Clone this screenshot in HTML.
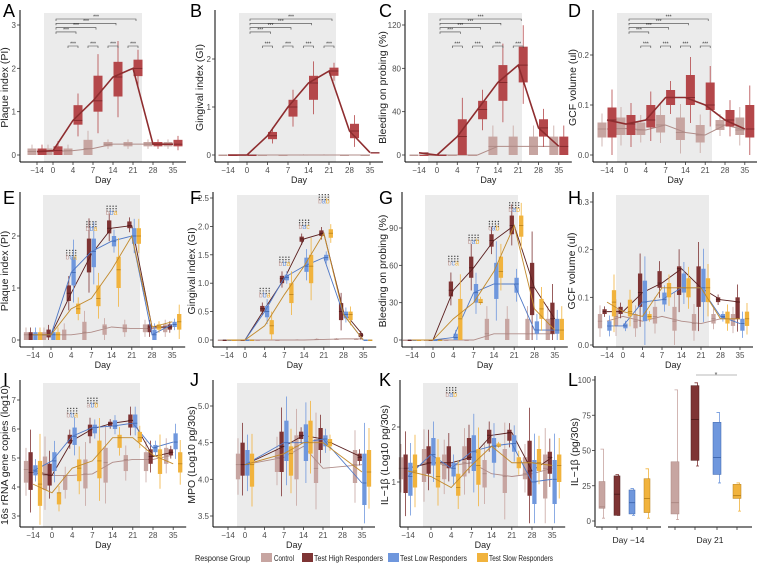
<!DOCTYPE html>
<html><head><meta charset="utf-8">
<style>
html,body{margin:0;padding:0;background:#fff;}
svg{display:block;font-family:"Liberation Sans",Arial,sans-serif;}
</style></head>
<body>
<svg id="fig" width="757" height="565" viewBox="0 0 757 565" xmlns="http://www.w3.org/2000/svg"></svg>
<script>
// ---------- DATA ----------
const dayLabels = ["-14","0","4","7","14","21","28","35"];
const groupNames = ["Control","Test High Responders","Test Low Responders","Test Slow Responders"];
// Panel A (Plaque index)
const A_ctrl_med=[0.08,0.08,0.1,0.15,0.25,0.25,0.25,0.25];
const A_ctrl_q1=[0,0,0,0,0.2,0.2,0.2,0.2];
const A_ctrl_q3=[0.15,0.15,0.15,0.35,0.3,0.3,0.3,0.3];
const A_test_med=[0.08,0.1,0.8,1.25,1.8,2.0,0.25,0.25];
const A_test_q1=[0,0,0.7,1.0,1.35,1.82,0.2,0.2];
const A_test_q3=[0.15,0.2,1.15,1.83,2.15,2.2,0.3,0.35];
// Panel B (Gingival index)
const B_ctrl_med=[0,0,0,0,0,0,0,0];
const B_ctrl_q1=[0,0,0,0,0,0,0,0];
const B_ctrl_q3=[0,0,0,0,0.01,0.01,0,0];
const B_test_med=[0,0,0.4,1.0,1.5,1.75,0.5,0.05];
const B_test_q1=[0,0,0.33,0.8,1.15,1.65,0.35,0.05];
const B_test_q3=[0,0,0.48,1.15,1.65,1.82,0.65,0.05];
// Panel C (Bleeding on probing)
const C_ctrl_med=[0,0,0,0,8,8,8,8];
const C_ctrl_q1=[0,0,0,0,0,0,0,0];
const C_ctrl_q3=[0,0,0,0,17,17,17,17];
const C_test_med=[2,0,17,42,67,83,25,8];
const C_test_q1=[0,0,0,33,50,67,17,0];
const C_test_q3=[0,0,33,50,83,100,33,17];
// Panel D (GCF volume)
const D_ctrl_med=[0.052,0.053,0.05,0.06,0.045,0.04,0.06,0.05];
const D_ctrl_q1=[0.035,0.04,0.04,0.045,0.03,0.025,0.05,0.04];
const D_ctrl_q3=[0.065,0.075,0.065,0.08,0.075,0.06,0.07,0.075];
const D_test_med=[0.07,0.062,0.07,0.115,0.115,0.1,0.07,0.052];
const D_test_q1=[0.035,0.04,0.055,0.1,0.1,0.09,0.057,0.035];
const D_test_q3=[0.095,0.08,0.1,0.13,0.16,0.145,0.09,0.1];
// Panel E
const E_ctrl_med=[0.1,0.1,0.1,0.15,0.25,0.22,0.22,0.25];
const E_ctrl_q1=[0,0,0,0,0.1,0.15,0.15,0.15];
const E_ctrl_q3=[0.15,0.15,0.2,0.35,0.3,0.3,0.3,0.3];
const E_high_med=[0.1,0.1,0.9,1.65,2.15,2.2,0.25,0.25];
const E_high_q1=[0,0.05,0.75,1.3,2.05,2.15,0.15,0.2];
const E_high_q3=[0.15,0.2,1.05,1.95,2.3,2.28,0.3,0.3];
const E_low_med=[0.1,0.1,1.3,1.7,1.9,2.0,0.1,0.3];
const E_low_q1=[0,0,1.05,1.4,1.8,1.85,0,0.25];
const E_low_q3=[0.15,0.15,1.6,1.95,2.0,2.15,0.2,0.35];
const E_slow_med=[0.1,0.1,0.6,0.8,1.35,2.0,0.25,0.35];
const E_slow_q1=[0,0,0.5,0.65,1.0,1.85,0.2,0.2];
const E_slow_q3=[0.15,0.15,0.7,1.05,1.6,2.15,0.3,0.5];
// Panel F
const F_ctrl_med=[0,0,0,0,0,0.01,0.02,0.02];
const F_ctrl_q1=[0,0,0,0,0,0,0,0];
const F_ctrl_q3=[0,0,0,0,0.01,0.02,0.02,0.02];
const F_high_med=[0,0,0.55,1.08,1.78,1.88,0.5,0.08];
const F_high_q1=[0,0,0.5,1.0,1.73,1.83,0.35,0.05];
const F_high_q3=[0,0,0.6,1.13,1.82,1.93,0.65,0.12];
const F_low_med=[0,0,0.5,1.1,1.3,1.45,0.45,0];
const F_low_q1=[0,0,0.4,1.05,1.2,1.4,0.38,0];
const F_low_q3=[0,0,0.6,1.15,1.45,1.5,0.5,0];
const F_slow_med=[0,0,0.25,0.8,1.3,1.88,0.45,0];
const F_slow_q1=[0,0,0.1,0.65,1.0,1.8,0.35,0];
const F_slow_q3=[0,0,0.35,1.0,1.5,1.95,0.5,0];
// Panel G
const G_ctrl_med=[0,0,0,0,5,5,5,5];
const G_ctrl_q1=[0,0,0,0,0,0,0,0];
const G_ctrl_q3=[0,0,0,0,17,17,17,17];
const G_high_med=[0,0,40,58,80,92,42,17];
const G_high_q1=[0,0,35,50,75,85,20,5];
const G_high_q3=[0,0,47,67,85,100,62,30];
const G_low_med=[0,0,2,38,45,45,8,8];
const G_low_q1=[0,0,0,30,33,38,5,5];
const G_low_q3=[0,0,5,45,62,50,15,17];
const G_slow_med=[0,0,17,30,55,92,25,8];
const G_slow_q1=[0,0,0,30,50,83,17,0];
const G_slow_q3=[0,0,33,33,67,100,33,17];
// Panel H
const H_ctrl_med=[0.05,0.06,0.05,0.06,0.05,0.045,0.055,0.055];
const H_ctrl_q1=[0.035,0.04,0.035,0.045,0.03,0.03,0.045,0.04];
const H_ctrl_q3=[0.065,0.075,0.065,0.08,0.08,0.065,0.065,0.065];
const H_high_med=[0.07,0.07,0.11,0.13,0.16,0.12,0.095,0.09];
const H_high_q1=[0.065,0.065,0.08,0.12,0.105,0.08,0.09,0.055];
const H_high_q3=[0.075,0.08,0.15,0.155,0.165,0.165,0.1,0.1];
const H_low_med=[0.04,0.04,0.09,0.095,0.12,0.12,0.06,0.045];
const H_low_q1=[0.03,0.035,0.05,0.085,0.11,0.09,0.055,0.03];
const H_low_q3=[0.05,0.045,0.135,0.11,0.15,0.16,0.065,0.055];
const H_slow_med=[0.09,0.07,0.06,0.12,0.12,0.12,0.055,0.055];
const H_slow_q1=[0.06,0.06,0.055,0.1,0.1,0.09,0.045,0.04];
const H_slow_q3=[0.115,0.095,0.065,0.13,0.14,0.14,0.07,0.07];
// Panel I
const I_ctrl_med=[4.6,4.4,4.4,4.45,4.85,4.95,4.95,5.1];
const I_ctrl_q1=[4.15,3.9,3.9,3.95,4.15,4.55,4.55,4.8];
const I_ctrl_q3=[4.9,5.05,4.4,4.95,5.35,5.1,5.2,5.35];
const I_high_med=[4.5,4.4,5.6,6.0,6.2,6.3,5.05,5.2];
const I_high_q1=[3.9,4.05,5.5,5.75,6.1,6.05,4.8,5.1];
const I_high_q3=[5.2,4.8,5.8,6.15,6.25,6.5,5.3,5.3];
const I_low_med=[4.55,4.9,5.75,6.05,6.1,6.2,5.35,5.55];
const I_low_q1=[4.4,4.55,5.45,5.85,6.0,6.05,5.2,5.3];
const I_low_q3=[4.75,5.2,6.05,6.15,6.3,6.5,5.45,5.85];
const I_slow_med=[4.1,3.8,4.65,4.9,5.7,5.7,5.1,4.8];
const I_slow_q1=[3.35,3.4,4.2,4.3,5.35,5.55,4.45,4.5];
const I_slow_q3=[4.9,3.8,4.95,5.6,5.8,5.9,5.3,5.2];
// Panel J
const J_ctrl_med=[null,4.2,null,4.3,4.45,4.15,null,4.2];
const J_ctrl_q1=[null,4.0,null,4.1,4.0,3.95,null,3.95];
const J_ctrl_q3=[null,4.35,null,4.4,4.6,4.55,null,4.4];
const J_high_med=[null,4.2,null,4.45,4.6,4.55,null,4.3];
const J_high_q1=[null,4.05,null,4.1,4.55,4.4,null,4.25];
const J_high_q3=[null,4.5,null,4.65,4.65,4.7,null,4.35];
const J_low_med=[null,4.2,null,4.5,4.5,4.55,null,3.95];
const J_low_q1=[null,4.05,null,4.25,4.25,4.45,null,3.65];
const J_low_q3=[null,4.4,null,4.8,4.75,4.6,null,4.35];
const J_slow_med=[null,4.2,null,4.35,4.5,4.5,null,4.1];
const J_slow_q1=[null,3.9,null,4.05,4.35,4.45,null,3.9];
const J_slow_q3=[null,4.35,null,4.45,4.8,4.55,null,4.4];
// Panel K
const K_ctrl_med=[1.25,1.35,1.3,1.35,1.15,1.1,1.15,1.25];
const K_ctrl_q1=[1.05,1.0,1.05,1.1,0.9,0.8,1.05,0.7];
const K_ctrl_q3=[1.45,1.6,1.5,1.65,1.4,1.6,1.45,1.5];
const K_high_med=[1.25,1.35,1.35,1.45,1.85,1.9,1.2,1.45];
const K_high_q1=[0.8,1.15,1.25,1.4,1.7,1.75,0.75,1.15];
const K_high_q3=[1.5,1.65,1.65,1.8,1.95,1.95,1.75,1.55];
const K_low_med=[1.1,1.5,1.25,1.55,1.65,1.7,1.0,1.05];
const K_low_q1=[0.75,1.3,1.1,1.2,1.35,1.55,0.6,0.6];
const K_low_q3=[1.35,1.8,1.35,1.85,1.8,1.85,1.4,1.4];
const K_slow_med=[1.2,1.1,0.9,1.3,1.65,1.35,1.35,1.3];
const K_slow_q1=[0.9,0.9,0.75,0.95,1.65,1.25,1.2,1.0];
const K_slow_q3=[1.5,1.45,1.15,1.6,1.7,1.45,1.6,1.5];
// Panel L (IL-1b pg/30s), order: control, high, low, slow
const L_facets=["Day \u221214","Day 21"];
const L_d14_med=[10,19,13,16];
const L_d14_q1=[9,4,5,6];
const L_d14_q3=[28,32,22,30];
const L_d14_lo=[2,4,4,2];
const L_d14_hi=[51,33,23,37];
const L_d21_med=[13,72,45,18];
const L_d21_q1=[5,43,33,16];
const L_d21_q3=[42,96,70,26];
const L_d21_lo=[1,39,27,7];
const L_d21_hi=[93,98,77,27];

// ---------- DRAW ----------
const NS="http://www.w3.org/2000/svg";
const svg=document.getElementById('fig');
function el(tag,attrs,parent){const e=document.createElementNS(NS,tag);for(const k in attrs)e.setAttribute(k,attrs[k]);(parent||svg).appendChild(e);return e;}
function txt(s,attrs,parent){const e=el('text',attrs,parent);e.textContent=s;return e;}

const COL={ctrl:"#c7a5a1",high:"#7e3434",low:"#6f97dd",slow:"#f1b33d",test:"#b4474a"};
const MED={ctrl:"#a98580",high:"#4e1a1a",low:"#3e66ad",slow:"#b7801b",test:"#7a2326"};
const LINE={ctrl:"#b08c88",high:"#5a1f1f",low:"#4f78c6",slow:"#c28a2c",test:"#8e2d2f"};

function drawPanel(p){
  const g=el('g',{});
  
  
  const yv=v=>p.y0px+(v-p.v0)*(p.y1px-p.y0px)/(p.v1-p.v0);
  const xp=i=> i===0 ? p.xFirst : p.x0+(i-1)*p.sp;
  const right=xp(7)+13;
  const sh=el('rect',{x:p.shade[0],y:p.top,width:p.shade[1]-p.shade[0],height:p.bottom-p.top,fill:"#ebebeb"},g);
  
  
  p.groups.forEach((gr,gi)=>{
    const off=p.offs[gi];
    const bw=p.bw;
    const pts=[];
    gr.med.forEach((m,i)=>{
      if(m===null)return;
      const cx=xp(i)+off;
      const q1=gr.q1[i],q3=gr.q3[i];
      const iqr=q3-q1;
      const lo=Math.max(p.vmin,q1-iqr*0.6),hi=q3+iqr*0.6;
      const wl=el('line',{x1:cx,x2:cx,y1:yv(lo),y2:yv(hi),stroke:COL[gr.k],'stroke-width':0.8},g);
      
      
      const y3=yv(q3),y1=yv(q1);
      const r=el('rect',{x:cx-bw/2,y:Math.min(y1,y3),width:bw,height:Math.max(1,Math.abs(y1-y3)),fill:COL[gr.k]},g);
      
      
      const ml=el('line',{x1:cx-bw/2,x2:cx+bw/2,y1:yv(m),y2:yv(m),stroke:MED[gr.k],'stroke-width':0.8},g);
      
      
      pts.push([xp(i),yv(m)]);
    });
    const pl=el('polyline',{points:pts.map(q=>q.join(',')).join(' '),fill:'none',stroke:LINE[gr.k],'stroke-width':gr.lw||1},g);
    
    
  });
  const ya=el('line',{x1:p.ax,x2:p.ax,y1:p.top-3,y2:p.bottom,stroke:"#000",'stroke-width':1},g);
  
  
  const xa=el('line',{x1:p.ax,x2:right,y1:p.bottom,y2:p.bottom,stroke:"#000",'stroke-width':1},g);
  
  
  p.ticks.forEach((t,j)=>{
    const y=yv(t);
    el('line',{x1:p.ax-3,x2:p.ax,y1:y,y2:y,stroke:"#333",'stroke-width':0.8},g);
    const tl=txt(p.tickLabels[j],{x:p.ax-4,y:y+3,'font-size':8,'text-anchor':'end',fill:"#4d4d4d"},g);
    
    
  });
  dayLabels.forEach((d,i)=>{
    const x=xp(i);
    el('line',{x1:x,x2:x,y1:p.bottom,y2:p.bottom+3,stroke:"#333",'stroke-width':0.8},g);
    const tl=txt(d==="-14"?"\u221214":d,{x:x,y:p.bottom+11,'font-size':8,'text-anchor':'middle',fill:"#4d4d4d"},g);
    
    
  });
  const xt=txt("Day",{x:(p.ax+right)/2,y:p.bottom+21,'font-size':9,'text-anchor':'middle',fill:"#222"},g);
  
  
  const cy=(p.top+p.bottom)/2;
  const yt=txt(p.ylabel,{x:p.lx,y:cy,'font-size':10.5,'text-anchor':'middle',fill:"#222",transform:`rotate(-90 ${p.lx} ${cy})`},g);
  
  
  const pl=txt(p.letter,{x:p.letX,y:p.letY,'font-size':18,fill:"#000"},g);
  
  
  if(p.brackets){
    const b0=p.top+6;
    [5,4,3,2].forEach((k,j)=>{
      const y=b0+j*4.3, x1=xp(1)+3, x2=xp(k)+3;
      el('path',{d:`M${x1},${y+2}V${y}H${x2}V${y+2}`,fill:'none',stroke:'#444','stroke-width':0.6},g);
      txt("***",{x:(x1+x2)/2,y:y-0.5,'font-size':5,'text-anchor':'middle',fill:'#333'},g);
    });
    [2,3,4,5].forEach(k=>{
      const y=b0+27, x1=xp(k)-5, x2=xp(k)+5;
      el('path',{d:`M${x1},${y+2}V${y}H${x2}V${y+2}`,fill:'none',stroke:'#444','stroke-width':0.6},g);
      txt("***",{x:xp(k),y:y-0.5,'font-size':5,'text-anchor':'middle',fill:'#333'},g);
    });
  }
  if(p.letters){
    p.letters.forEach(L=>{
      const x=xp(L[0]);
      const yb=yv(L[1]);
      for(let r=0;r<3;r++)for(let c=0;c<4;c++){
        el('circle',{cx:x-4.5+c*3,cy:yb-9+r*2.5,r:0.7,fill:'#444'},g);
      }
      const t=txt("",{x:x,y:yb,'font-size':7,'text-anchor':'middle'},g);
      [...L[2]].forEach((c,ci)=>{const s=el('tspan',{fill:[COL.ctrl,COL.low,COL.slow][ci]},t);s.textContent=c;});
    });
  }
}

const ALL={A_ctrl_med,A_ctrl_q1,A_ctrl_q3,A_test_med,A_test_q1,A_test_q3,B_ctrl_med,B_ctrl_q1,B_ctrl_q3,B_test_med,B_test_q1,B_test_q3,C_ctrl_med,C_ctrl_q1,C_ctrl_q3,C_test_med,C_test_q1,C_test_q3,D_ctrl_med,D_ctrl_q1,D_ctrl_q3,D_test_med,D_test_q1,D_test_q3,
E_ctrl_med,E_ctrl_q1,E_ctrl_q3,E_high_med,E_high_q1,E_high_q3,E_low_med,E_low_q1,E_low_q3,E_slow_med,E_slow_q1,E_slow_q3,
F_ctrl_med,F_ctrl_q1,F_ctrl_q3,F_high_med,F_high_q1,F_high_q3,F_low_med,F_low_q1,F_low_q3,F_slow_med,F_slow_q1,F_slow_q3,
G_ctrl_med,G_ctrl_q1,G_ctrl_q3,G_high_med,G_high_q1,G_high_q3,G_low_med,G_low_q1,G_low_q3,G_slow_med,G_slow_q1,G_slow_q3,
H_ctrl_med,H_ctrl_q1,H_ctrl_q3,H_high_med,H_high_q1,H_high_q3,H_low_med,H_low_q1,H_low_q3,H_slow_med,H_slow_q1,H_slow_q3,
I_ctrl_med,I_ctrl_q1,I_ctrl_q3,I_high_med,I_high_q1,I_high_q3,I_low_med,I_low_q1,I_low_q3,I_slow_med,I_slow_q1,I_slow_q3,
J_ctrl_med,J_ctrl_q1,J_ctrl_q3,J_high_med,J_high_q1,J_high_q3,J_low_med,J_low_q1,J_low_q3,J_slow_med,J_slow_q1,J_slow_q3,
K_ctrl_med,K_ctrl_q1,K_ctrl_q3,K_high_med,K_high_q1,K_high_q3,K_low_med,K_low_q1,K_low_q3,K_slow_med,K_slow_q1,K_slow_q3};
function grp2(P){return [
  {k:'ctrl',med:ALL[P+'_ctrl_med'],q1:ALL[P+'_ctrl_q1'],q3:ALL[P+'_ctrl_q3'],lw:1},
  {k:'test',med:ALL[P+'_test_med'],q1:ALL[P+'_test_q1'],q3:ALL[P+'_test_q3'],lw:1.6}];}
function grp4(P){return ['ctrl','high','low','slow'].map(k=>({k:k,med:ALL[P+'_'+k+'_med'],q1:ALL[P+'_'+k+'_q1'],q3:ALL[P+'_'+k+'_q3'],lw:0.9}));}
const off2=[-5,5], off4=[-7,-2.4,2.4,7];

const panels=[
 {letter:'A',letX:3,letY:17,ax:20,top:13,bottom:162,v0:0,y0px:155,v1:3,y1px:25,vmin:0,ticks:[0,1,2,3],tickLabels:["0","1","2","3"],xFirst:37,x0:53,sp:20,shade:[44,142],ylabel:"Plaque index (PI)",lx:8,groups:grp2('A'),offs:off2,bw:9,brackets:true},
 {letter:'B',letX:190,letY:17,ax:215,top:13,bottom:162,v0:0,y0px:155,v1:2,y1px:59,vmin:0,ticks:[0,1,2],tickLabels:["0","1","2"],xFirst:228,x0:247,sp:20.5,shade:[239,336],ylabel:"Gingival index (GI)",lx:203,groups:grp2('B'),offs:off2,bw:9,brackets:true},
 {letter:'C',letX:379,letY:17,ax:405,top:13,bottom:162,v0:0,y0px:155,v1:120,y1px:25,vmin:0,ticks:[0,40,80,120],tickLabels:["0","40","80","120"],xFirst:419,x0:437,sp:20.3,shade:[428,522],ylabel:"Bleeding on probing (%)",lx:386,groups:grp2('C'),offs:off2,bw:9,brackets:true},
 {letter:'D',letX:568,letY:17,ax:593,top:13,bottom:162,v0:0,y0px:155,v1:0.2,y1px:55,vmin:0,ticks:[0,0.1,0.2],tickLabels:["0.0","0.1","0.2"],xFirst:607,x0:626,sp:19.8,shade:[617,712],ylabel:"GCF volume (ul)",lx:576,groups:grp2('D'),offs:off2,bw:9,brackets:true},
 {letter:'E',letX:3,letY:204,ax:20,top:195,bottom:347,v0:0,y0px:340,v1:2,y1px:236,vmin:0,ticks:[0,1,2],tickLabels:["0","1","2"],xFirst:33,x0:51,sp:20.2,shade:[43,140],ylabel:"Plaque index (PI)",lx:8,groups:grp4('E'),offs:off4,bw:4.3,letters:[[2,1.55,"bca"],[3,2.1,"bba"],[4,2.4,"bba"]]},
 {letter:'F',letX:190,letY:204,ax:213,top:195,bottom:347,v0:0,y0px:340,v1:2.5,y1px:198,vmin:0,ticks:[0,0.5,1,1.5,2,2.5],tickLabels:["0.0","0.5","1.0","1.5","2.0","2.5"],xFirst:227,x0:245,sp:19.7,shade:[237,330],ylabel:"Gingival index (GI)",lx:195,groups:grp4('F'),offs:off4,bw:4.3,letters:[[2,0.75,"bba"],[3,1.3,"bba"],[4,1.95,"bac"],[5,2.4,"bab"]]},
 {letter:'G',letX:379,letY:204,ax:402,top:195,bottom:347,v0:0,y0px:340,v1:90,y1px:228,vmin:0,ticks:[0,30,60,90],tickLabels:["0","30","60","90"],xFirst:412,x0:433,sp:20.3,shade:[425,518],ylabel:"Bleeding on probing (%)",lx:386,groups:grp4('G'),offs:off4,bw:4.3,letters:[[2,60,"bca"],[3,77,"bab"],[4,88,"cab"],[5,103,"bab"]]},
 {letter:'H',letX:568,letY:204,ax:593,top:195,bottom:347,v0:0,y0px:345,v1:0.3,y1px:202,vmin:0,ticks:[0,0.1,0.2,0.3],tickLabels:["0.0","0.1","0.2","0.3"],xFirst:607,x0:623,sp:19.5,shade:[616,709],ylabel:"GCF volume (ul)",lx:575,groups:grp4('H'),offs:off4,bw:4.3},
 {letter:'I',letX:3,letY:386,ax:20,top:383,bottom:527,v0:3,y0px:516,v1:7,y1px:400,vmin:2.7,ticks:[3,4,5,6,7],tickLabels:["3","4","5","6","7"],xFirst:33,x0:52,sp:20.2,shade:[43,140],ylabel:"16s rRNA gene copies (log10)",lx:8,groups:grp4('I'),offs:off4,bw:4.3,letters:[[2,6.4,"bba"],[3,6.75,"abb"]]},
 {letter:'J',letX:190,letY:386,ax:213,top:383,bottom:527,v0:3.5,y0px:516,v1:5,y1px:406,vmin:3.4,ticks:[3.5,4,4.5,5],tickLabels:["3.5","4.0","4.5","5.0"],xFirst:228,x0:245,sp:19.5,shade:[237,330],ylabel:"MPO (Log10 pg/30s)",lx:195,groups:grp4('J'),offs:off4,bw:4.3},
 {letter:'K',letX:379,letY:386,ax:400,top:383,bottom:527,v0:1,y0px:482,v1:2,y1px:427,vmin:0.25,ticks:[1,2],tickLabels:["1","2"],xFirst:408,x0:431,sp:20.2,shade:[423,518],ylabel:"IL\u22121\u03B2 (Log10 pg/30s)",lx:388,groups:grp4('K'),offs:off4,bw:4.3,letters:[[2,2.55,"bab"]]}
];
panels.forEach(drawPanel);

// ---------- Panel L ----------
(function(){
  const g=el('g',{});
  
  
  const yv=v=>521+(v-0)*(380-521)/100;
  const ax=595,bottom=527;
  const yax=el('line',{x1:ax,x2:ax,y1:376,y2:bottom,stroke:'#000'},g);
  
  
  [0,25,50,75,100].forEach(t=>{
    el('line',{x1:ax-3,x2:ax,y1:yv(t),y2:yv(t),stroke:'#333','stroke-width':0.8},g);
    const tl=txt(String(t),{x:ax-4,y:yv(t)+3,'font-size':8,'text-anchor':'end',fill:'#4d4d4d'},g);
    
    
  });
  const yt=txt("IL\u22121\u03B2 (pg/30s)",{x:578,y:452,'font-size':10.5,'text-anchor':'middle',fill:'#222',transform:'rotate(-90 578 452)'},g);
  
  
  const lt=txt("L",{x:568,y:386,'font-size':18,fill:'#000'},g);
  
  
  const facets=[
    {x1:596,x2:661,xs:[602,617,632,647],bw:6,med:L_d14_med,q1:L_d14_q1,q3:L_d14_q3,lo:L_d14_lo,hi:L_d14_hi},
    {x1:668,x2:752,xs:[675,695,717,737],bw:8,med:L_d21_med,q1:L_d21_q1,q3:L_d21_q3,lo:L_d21_lo,hi:L_d21_hi}];
  const keys=['ctrl','high','low','slow'];
  facets.forEach((f,fi)=>{
    const fx=el('line',{x1:f.x1,x2:f.x2,y1:bottom,y2:bottom,stroke:'#000'},g);
    
    
    f.xs.forEach((cx,i)=>{
      const k=keys[i];
      el('line',{x1:cx,x2:cx,y1:bottom,y2:bottom+3,stroke:'#333','stroke-width':0.8},g);
      const w=el('path',{d:`M${cx+f.bw/2},${yv(f.lo[i])}h${-3}M${cx+f.bw/2-1.5},${yv(f.lo[i])}V${yv(f.hi[i])}h-3`,stroke:COL[k],fill:'none','stroke-width':0.8},g);
      
      
      const r=el('rect',{x:cx-f.bw/2,y:yv(f.q3[i]),width:f.bw,height:yv(f.q1[i])-yv(f.q3[i]),fill:COL[k],stroke:MED[k],'stroke-width':0.5},g);
      
      
      el('line',{x1:cx-f.bw/2,x2:cx+f.bw/2,y1:yv(f.med[i]),y2:yv(f.med[i]),stroke:MED[k],'stroke-width':0.9},g);
    });
    const ft=txt(L_facets[fi],{x:(f.x1+f.x2)/2,y:543,'font-size':8.5,'text-anchor':'middle',fill:'#222'},g);
    
    
  });
  el('line',{x1:696,x2:737,y1:375,y2:375,stroke:'#777','stroke-width':0.6},g);
  txt("*",{x:716,y:377,'font-size':7,'text-anchor':'middle',fill:'#444'},g);
})();

// ---------- Legend ----------
(function(){
  const g=el('g',{});
  
  
  const t=txt("Response Group",{x:195,y:561,'font-size':8,fill:'#222',textLength:55,lengthAdjust:'spacingAndGlyphs'},g);
  
  
  const items=[[261,274,'ctrl',20],[302,314,'high',69],[388,400,'low',67],[477,489,'slow',64]];
  items.forEach((it,i)=>{
    const s=el('rect',{x:it[0],y:553,width:11,height:9,fill:COL[it[2]]},g);
    
    
    const lt=txt(groupNames[i],{x:it[1],y:561,'font-size':8,fill:'#222',textLength:it[3],lengthAdjust:'spacingAndGlyphs'},g);
    
    
  });
})();
</script>
</body></html>
